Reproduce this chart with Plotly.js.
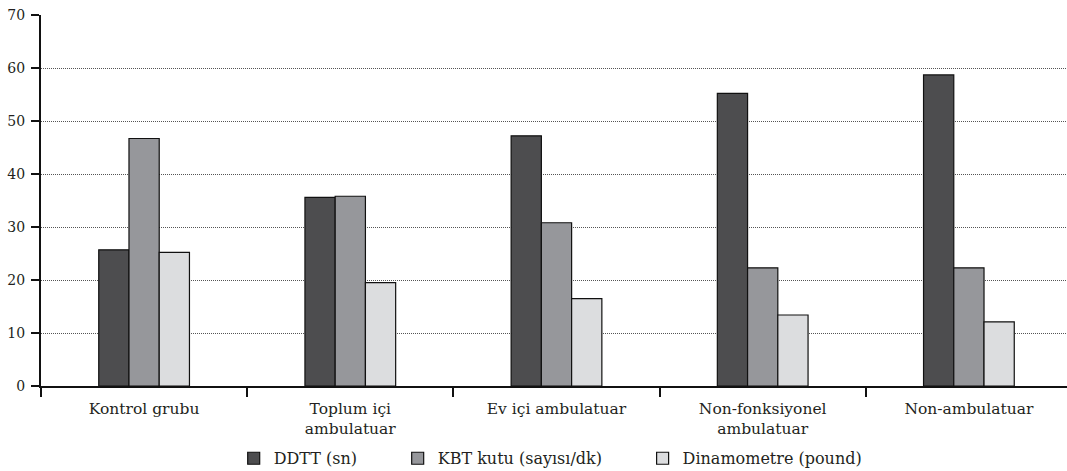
<!DOCTYPE html>
<html>
<head>
<meta charset="utf-8">
<script src="https://cdn.plot.ly/plotly-3.0.1.min.js"></script>
<style>html,body{margin:0;padding:0;overflow:hidden;background:#fff;}</style>
</head>
<body>
<div id="chart"></div>
<script>
const categories = ["Kontrol grubu", "Toplum içi<br>ambulatuar", "Ev içi ambulatuar", "Non-fonksiyonel<br>ambulatuar", "Non-ambulatuar"];
const seriesNames = ["DDTT (sn)", "KBT kutu (sayısı/dk)", "Dinamometre (pound)"];
const ddtt = [25.7, 35.6, 47.2, 55.2, 58.7];
const kbt = [46.7, 35.8, 30.8, 22.3, 22.3];
const dinamometre = [25.2, 19.5, 16.5, 13.4, 12.1];
const yTicks = [0, 10, 20, 30, 40, 50, 60, 70];

const colors = ["#4d4d4f", "#96979b", "#dcdddf"];
const values = [ddtt, kbt, dinamometre];
const font = "DejaVu Serif";
const ink = "#231f20";
const legendPad = "\u00a0".repeat(7);

const traces = values.map((v, i) => ({
  type: "bar",
  name: seriesNames[i] + (i < seriesNames.length - 1 ? legendPad : ""),
  x: categories,
  y: v,
  marker: {color: colors[i], line: {color: "#111111", width: 1.2}},
  hoverinfo: "x+y"
}));

const layout = {
  width: 1072,
  height: 471,
  margin: {l: 41, r: 0, t: 15, b: 85, autoexpand: false},
  paper_bgcolor: "#ffffff",
  plot_bgcolor: "#ffffff",
  font: {family: font, color: ink, size: 15.5},
  barmode: "group",
  bargap: 0.56,
  bargroupgap: 0,
  showlegend: true,
  legend: {
    orientation: "h",
    xref: "container", yref: "container",
    x: 0.218, xanchor: "left",
    y: 0.063, yanchor: "top",
    font: {family: font, size: 16, color: ink},
    itemwidth: 30,
    traceorder: "normal"
  },
  xaxis: {
    type: "category",
    automargin: false,
    showline: true, linecolor: "#111111", linewidth: 2,
    ticks: "outside", tickson: "boundaries", ticklen: 9, tickwidth: 2, tickcolor: "#111111",
    ticklabelstandoff: 7,
    tickfont: {family: font, size: 15.5, color: ink},
    showgrid: false, zeroline: false,
    fixedrange: true
  },
  yaxis: {
    range: [0, 70],
    automargin: false,
    tickvals: yTicks,
    ticktext: yTicks.map(String),
    showline: true, linecolor: "#111111", linewidth: 2,
    ticks: "outside", ticklen: 8, tickwidth: 2, tickcolor: "#111111",
    ticklabelstandoff: 3,
    tickfont: {family: font, size: 14, color: ink},
    showgrid: true, gridcolor: "#555555", gridwidth: 1, griddash: "1px,1px",
    zeroline: false,
    fixedrange: true
  }
};

Plotly.newPlot("chart", traces, layout, {displayModeBar: false, staticPlot: true});
</script>
</body>
</html>
